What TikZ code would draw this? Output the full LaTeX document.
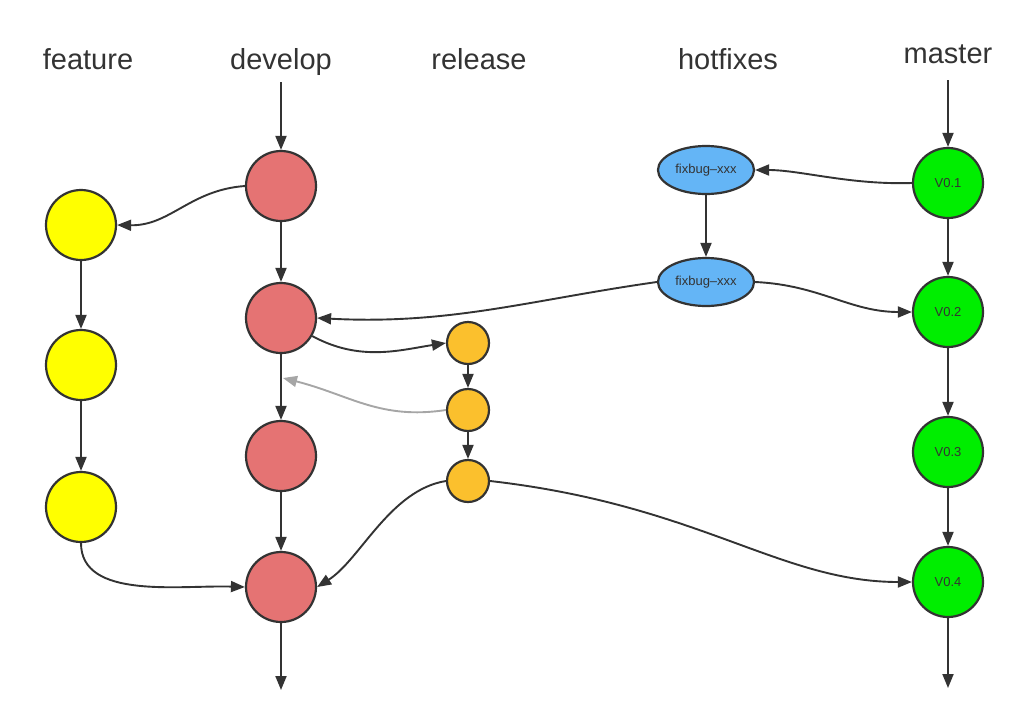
\documentclass[tikz,border=0pt]{standalone}
\usepackage{fontspec}
\setmainfont{Liberation Sans}
\usetikzlibrary{arrows.meta,shapes.geometric}
\definecolor{devred}{HTML}{E57373}
\definecolor{featyel}{HTML}{FFFF00}
\definecolor{relorg}{HTML}{FBC02D}
\definecolor{hotblue}{HTML}{64B5F6}
\definecolor{mastgrn}{HTML}{00EE00}
\definecolor{lineclr}{HTML}{333333}
\tikzset{
  x=1pt,y=-1pt,
  commit/.style={circle,draw=lineclr,line width=2.2pt,inner sep=0pt,minimum size=70pt,font=\fontsize{13}{13}\selectfont,text=lineclr},
  devc/.style={commit,fill=devred},
  featc/.style={commit,fill=featyel},
  masc/.style={commit,fill=mastgrn},
  relc/.style={commit,fill=relorg,minimum size=42pt},
  hotc/.style={ellipse,draw=lineclr,line width=2.2pt,fill=hotblue,minimum width=96pt,minimum height=48pt,inner sep=0pt,font=\fontsize{13}{13}\selectfont,text=lineclr},
  lbl/.style={font=\fontsize{29}{29}\selectfont,text=lineclr,inner sep=0pt,anchor=base},
  arr/.style={draw=lineclr,line width=1.9pt,-{Triangle[length=14pt,width=11pt]}},
  garr/.style={draw=gray!70,line width=1.9pt,-{Triangle[length=14pt,width=11pt]}},
}
\begin{document}
\begin{tikzpicture}
\useasboundingbox (0,0) rectangle (1036,710);
% labels
\node[lbl] (lf) at (88,69) {feature};
\node[lbl] (ld) at (281,69) {develop};
\node[lbl] (lr) at (479,69) {release};
\node[lbl] (lh) at (728,69) {hotfixes};
\node[lbl] (lm) at (948,63) {master};
% coordinates
\coordinate (dtop) at (281,82);
\coordinate (dbot) at (281,690);
\coordinate (mtop) at (948,80);
\coordinate (mbot) at (948,688);
\coordinate (gend) at (283,378);
% develop
\node[devc] (d1) at (281,186) {};
\node[devc] (d2) at (281,318) {};
\node[devc] (d3) at (281,456) {};
\node[devc] (d4) at (281,587) {};
% feature
\node[featc] (f1) at (81,225) {};
\node[featc] (f2) at (81,365) {};
\node[featc] (f3) at (81,507) {};
% release
\node[relc] (r1) at (468,343) {};
\node[relc] (r2) at (468,410) {};
\node[relc] (r3) at (468,481) {};
% hotfixes
\node[hotc] (h1) at (706,170) {fixbug–xxx};
\node[hotc] (h2) at (706,282) {fixbug–xxx};
% master
\node[masc] (m1) at (948,183) {V0.1};
\node[masc] (m2) at (948,312) {V0.2};
\node[masc] (m3) at (948,452) {V0.3};
\node[masc] (m4) at (948,582) {V0.4};
% develop line
\draw[arr] (dtop) -- (d1);
\draw[arr] (d1) -- (d2);
\draw[arr] (d2) -- (d3);
\draw[arr] (d3) -- (d4);
\draw[arr] (d4) -- (dbot);
% master line
\draw[arr] (mtop) -- (m1);
\draw[arr] (m1) -- (m2);
\draw[arr] (m2) -- (m3);
\draw[arr] (m3) -- (m4);
\draw[arr] (m4) -- (mbot);
% feature
\draw[arr] (d1.west) .. controls (190,190) and (170,226) .. (f1.east);
\draw[arr] (f1) -- (f2);
\draw[arr] (f2) -- (f3);
\draw[arr] (f3.south) .. controls (81,600) and (180,585) .. (d4.west);
% release
\draw[arr] (d2.-30) .. controls (360,362) and (400,350) .. (r1.west);
\draw[arr] (r1) -- (r2);
\draw[arr] (r2) -- (r3);
\draw[garr] (r2.west) .. controls (380,420) and (350,395) .. (gend);
\draw[arr] (r3.west) .. controls (390,490) and (360,560) .. (d4.east);
\draw[arr] (r3.east) .. controls (700,505) and (780,582) .. (m4.west);
% hotfixes
\draw[arr] (m1.west) .. controls (850,185) and (800,170) .. (h1.east);
\draw[arr] (h1) -- (h2);
\draw[arr] (h2.west) .. controls (530,300) and (450,325) .. (d2.east);
\draw[arr] (h2.east) .. controls (820,285) and (850,312) .. (m2.west);
\end{tikzpicture}
\end{document}
